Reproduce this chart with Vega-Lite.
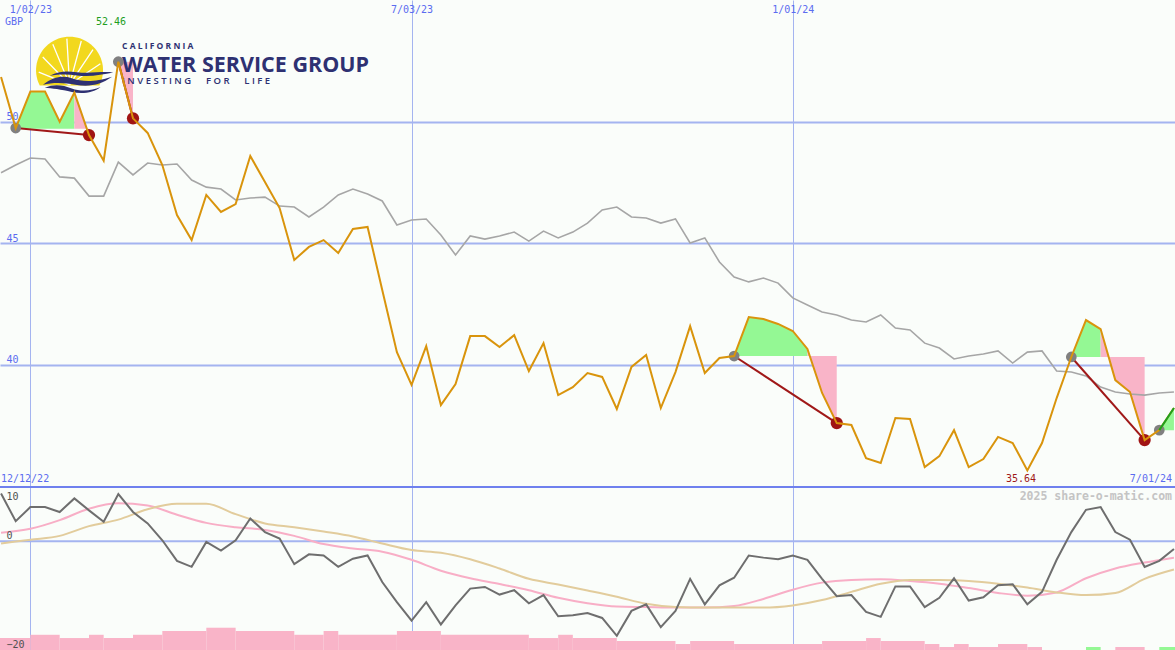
{
  "$schema": "https://vega.github.io/schema/vega-lite/v6.json",
  "background": "#fafdfa",
  "padding": 0,
  "spacing": 0,
  "config": {
    "view": {"stroke": null},
    "axis": {"domain": false, "ticks": false, "tickSize": 0, "minExtent": 0, "labelFont": "DejaVu Sans Mono", "labelFontSize": 10, "labelOverlap": false, "labelFlush": false, "labelBound": false, "gridColor": "#a4b4f0", "titleFont": "DejaVu Sans Mono"}
  },
  "datasets": {
    "one": [{}],
    "weekly": [
      {"date":"2022-12-19","price":51.83,"ma":47.89,"osc":8.8},
      {"date":"2022-12-26","price":49.73,"ma":48.21,"osc":3.7},
      {"date":"2023-01-02","price":51.23,"ma":48.50,"osc":6.3},
      {"date":"2023-01-09","price":51.23,"ma":48.46,"osc":6.3},
      {"date":"2023-01-16","price":49.99,"ma":47.72,"osc":5.4},
      {"date":"2023-01-23","price":51.19,"ma":47.67,"osc":7.9},
      {"date":"2023-01-30","price":49.44,"ma":46.93,"osc":5.7},
      {"date":"2023-02-06","price":48.39,"ma":46.93,"osc":3.6},
      {"date":"2023-02-13","price":52.46,"ma":48.33,"osc":8.7},
      {"date":"2023-02-20","price":50.13,"ma":47.80,"osc":5.4},
      {"date":"2023-02-27","price":49.53,"ma":48.29,"osc":3.3},
      {"date":"2023-03-06","price":48.21,"ma":48.21,"osc":0.2},
      {"date":"2023-03-13","price":46.15,"ma":48.25,"osc":-3.6},
      {"date":"2023-03-20","price":45.12,"ma":47.59,"osc":-4.7},
      {"date":"2023-03-27","price":46.98,"ma":47.30,"osc":-0.1},
      {"date":"2023-04-03","price":46.28,"ma":47.22,"osc":-1.7},
      {"date":"2023-04-10","price":46.60,"ma":46.77,"osc":0.2},
      {"date":"2023-04-17","price":48.58,"ma":46.85,"osc":4.2},
      {"date":"2023-04-24","price":47.51,"ma":46.89,"osc":1.7},
      {"date":"2023-05-01","price":46.44,"ma":46.52,"osc":0.5},
      {"date":"2023-05-08","price":44.30,"ma":46.48,"osc":-4.2},
      {"date":"2023-05-15","price":44.84,"ma":46.07,"osc":-2.4},
      {"date":"2023-05-22","price":45.12,"ma":46.48,"osc":-2.6},
      {"date":"2023-05-29","price":44.59,"ma":46.98,"osc":-4.7},
      {"date":"2023-06-05","price":45.58,"ma":47.22,"osc":-3.2},
      {"date":"2023-06-12","price":45.66,"ma":47.02,"osc":-2.6},
      {"date":"2023-06-19","price":43.07,"ma":46.73,"osc":-7.5},
      {"date":"2023-06-26","price":40.51,"ma":45.74,"osc":-11.2},
      {"date":"2023-07-03","price":39.16,"ma":45.95,"osc":-14.6},
      {"date":"2023-07-10","price":40.76,"ma":45.99,"osc":-11.2},
      {"date":"2023-07-17","price":38.33,"ma":45.33,"osc":-15.3},
      {"date":"2023-07-24","price":39.20,"ma":44.51,"osc":-11.8},
      {"date":"2023-07-31","price":41.17,"ma":45.29,"osc":-8.7},
      {"date":"2023-08-07","price":41.17,"ma":45.16,"osc":-8.4},
      {"date":"2023-08-14","price":40.72,"ma":45.29,"osc":-9.8},
      {"date":"2023-08-21","price":41.21,"ma":45.45,"osc":-9.0},
      {"date":"2023-08-28","price":39.73,"ma":45.08,"osc":-11.4},
      {"date":"2023-09-04","price":40.88,"ma":45.49,"osc":-9.9},
      {"date":"2023-09-11","price":38.74,"ma":45.21,"osc":-13.8},
      {"date":"2023-09-18","price":39.07,"ma":45.45,"osc":-13.6},
      {"date":"2023-09-25","price":39.65,"ma":45.82,"osc":-13.2},
      {"date":"2023-10-02","price":39.49,"ma":46.36,"osc":-14.1},
      {"date":"2023-10-09","price":38.17,"ma":46.48,"osc":-17.4},
      {"date":"2023-10-16","price":39.90,"ma":46.07,"osc":-12.8},
      {"date":"2023-10-23","price":40.39,"ma":46.03,"osc":-11.6},
      {"date":"2023-10-30","price":38.21,"ma":45.82,"osc":-15.8},
      {"date":"2023-11-06","price":39.69,"ma":45.99,"osc":-12.8},
      {"date":"2023-11-13","price":41.58,"ma":45.00,"osc":-6.9},
      {"date":"2023-11-20","price":39.65,"ma":45.21,"osc":-11.6},
      {"date":"2023-11-27","price":40.27,"ma":44.22,"osc":-8.1},
      {"date":"2023-12-04","price":40.35,"ma":43.60,"osc":-6.7},
      {"date":"2023-12-11","price":41.95,"ma":43.40,"osc":-2.6},
      {"date":"2023-12-18","price":41.87,"ma":43.56,"osc":-3.0},
      {"date":"2023-12-25","price":41.67,"ma":43.35,"osc":-3.3},
      {"date":"2024-01-01","price":41.38,"ma":42.74,"osc":-2.6},
      {"date":"2024-01-08","price":40.64,"ma":42.45,"osc":-3.4},
      {"date":"2024-01-15","price":38.83,"ma":42.16,"osc":-6.9},
      {"date":"2024-01-22","price":37.59,"ma":42.04,"osc":-10.1},
      {"date":"2024-01-29","price":37.51,"ma":41.83,"osc":-9.9},
      {"date":"2024-02-05","price":36.15,"ma":41.75,"osc":-13.0},
      {"date":"2024-02-12","price":35.95,"ma":42.04,"osc":-13.9},
      {"date":"2024-02-19","price":37.80,"ma":41.50,"osc":-8.3},
      {"date":"2024-02-26","price":37.76,"ma":41.42,"osc":-8.3},
      {"date":"2024-03-04","price":35.78,"ma":40.88,"osc":-12.1},
      {"date":"2024-03-11","price":36.23,"ma":40.68,"osc":-10.4},
      {"date":"2024-03-18","price":37.30,"ma":40.23,"osc":-6.8},
      {"date":"2024-03-25","price":35.78,"ma":40.35,"osc":-10.9},
      {"date":"2024-04-01","price":36.11,"ma":40.43,"osc":-10.3},
      {"date":"2024-04-08","price":37.02,"ma":40.56,"osc":-8.1},
      {"date":"2024-04-15","price":36.77,"ma":40.06,"osc":-7.9},
      {"date":"2024-04-22","price":35.64,"ma":40.51,"osc":-11.6},
      {"date":"2024-04-29","price":36.77,"ma":40.56,"osc":-9.3},
      {"date":"2024-05-06","price":38.62,"ma":39.73,"osc":-3.4},
      {"date":"2024-05-13","price":40.31,"ma":39.69,"osc":1.7},
      {"date":"2024-05-20","price":41.83,"ma":39.53,"osc":5.8},
      {"date":"2024-05-27","price":41.46,"ma":39.07,"osc":6.3},
      {"date":"2024-06-03","price":39.36,"ma":38.87,"osc":1.7},
      {"date":"2024-06-10","price":38.87,"ma":38.79,"osc":0.3},
      {"date":"2024-06-17","price":36.89,"ma":38.74,"osc":-4.7},
      {"date":"2024-06-24","price":37.30,"ma":38.83,"osc":-3.6},
      {"date":"2024-07-01","price":38.21,"ma":38.87,"osc":-1.4}
    ],
    "smooth": [
      {"date":"2022-12-19","pink":1.6,"tan":-0.4},
      {"date":"2023-01-02","pink":2.3,"tan":0.3},
      {"date":"2023-01-16","pink":3.9,"tan":1.0},
      {"date":"2023-01-30","pink":6.0,"tan":2.8},
      {"date":"2023-02-13","pink":7.0,"tan":4.0},
      {"date":"2023-02-27","pink":6.6,"tan":5.9},
      {"date":"2023-03-13","pink":4.9,"tan":6.9},
      {"date":"2023-03-27","pink":3.4,"tan":6.9},
      {"date":"2023-04-10","pink":2.6,"tan":5.0},
      {"date":"2023-04-24","pink":2.1,"tan":3.3},
      {"date":"2023-05-08","pink":1.0,"tan":2.6},
      {"date":"2023-05-22","pink":-0.5,"tan":1.8},
      {"date":"2023-06-05","pink":-1.3,"tan":0.9},
      {"date":"2023-06-19","pink":-1.9,"tan":-0.4},
      {"date":"2023-07-03","pink":-3.4,"tan":-1.6},
      {"date":"2023-07-17","pink":-5.4,"tan":-2.1},
      {"date":"2023-07-31","pink":-6.8,"tan":-3.3},
      {"date":"2023-08-14","pink":-7.85,"tan":-5.0},
      {"date":"2023-08-28","pink":-9.0,"tan":-6.9},
      {"date":"2023-09-11","pink":-10.4,"tan":-7.95},
      {"date":"2023-09-25","pink":-11.4,"tan":-9.05},
      {"date":"2023-10-09","pink":-12.0,"tan":-10.2},
      {"date":"2023-10-23","pink":-12.1,"tan":-11.5},
      {"date":"2023-11-06","pink":-12.2,"tan":-12.1},
      {"date":"2023-11-20","pink":-12.2,"tan":-12.2},
      {"date":"2023-12-04","pink":-11.9,"tan":-12.2},
      {"date":"2023-12-18","pink":-10.6,"tan":-12.2},
      {"date":"2024-01-01","pink":-8.9,"tan":-11.8},
      {"date":"2024-01-15","pink":-7.6,"tan":-10.8},
      {"date":"2024-01-29","pink":-7.1,"tan":-9.3},
      {"date":"2024-02-12","pink":-7.0,"tan":-7.8},
      {"date":"2024-02-26","pink":-7.3,"tan":-7.1},
      {"date":"2024-03-11","pink":-7.8,"tan":-7.1},
      {"date":"2024-03-25","pink":-8.6,"tan":-7.3},
      {"date":"2024-04-08","pink":-9.5,"tan":-7.8},
      {"date":"2024-04-22","pink":-10.0,"tan":-8.5},
      {"date":"2024-05-06","pink":-9.4,"tan":-9.4},
      {"date":"2024-05-20","pink":-6.8,"tan":-9.9},
      {"date":"2024-06-03","pink":-5.0,"tan":-9.5},
      {"date":"2024-06-17","pink":-3.9,"tan":-6.9},
      {"date":"2024-07-01","pink":-3.0,"tan":-5.2}
    ],
    "fills": [
      {"seg":"g1","kind":"buy","date":"2022-12-26","price":49.73,"base":49.70},
      {"seg":"g1","kind":"buy","date":"2023-01-02","price":51.23,"base":49.70},
      {"seg":"g1","kind":"buy","date":"2023-01-09","price":51.23,"base":49.70},
      {"seg":"g1","kind":"buy","date":"2023-01-16","price":49.99,"base":49.70},
      {"seg":"g1","kind":"buy","date":"2023-01-23","price":51.19,"base":49.70},
      {"seg":"p1","kind":"sell","date":"2023-01-23","price":51.19,"base":49.70},
      {"seg":"p1","kind":"sell","date":"2023-01-30","price":49.44,"base":49.70},
      {"seg":"p2","kind":"sell","date":"2023-02-13","price":52.46,"base":52.46},
      {"seg":"p2","kind":"sell","date":"2023-02-20","price":50.13,"base":52.46},
      {"seg":"g3","kind":"buy","date":"2023-12-04","price":40.35,"base":40.35},
      {"seg":"g3","kind":"buy","date":"2023-12-11","price":41.95,"base":40.35},
      {"seg":"g3","kind":"buy","date":"2023-12-18","price":41.87,"base":40.35},
      {"seg":"g3","kind":"buy","date":"2023-12-25","price":41.67,"base":40.35},
      {"seg":"g3","kind":"buy","date":"2024-01-01","price":41.38,"base":40.35},
      {"seg":"g3","kind":"buy","date":"2024-01-08","price":40.64,"base":40.35},
      {"seg":"p3","kind":"sell","date":"2024-01-08","price":40.64,"base":40.35},
      {"seg":"p3","kind":"sell","date":"2024-01-15","price":38.83,"base":40.35},
      {"seg":"p3","kind":"sell","date":"2024-01-22","price":37.59,"base":40.35},
      {"seg":"g4","kind":"buy","date":"2024-05-13","price":40.31,"base":40.31},
      {"seg":"g4","kind":"buy","date":"2024-05-20","price":41.83,"base":40.31},
      {"seg":"g4","kind":"buy","date":"2024-05-27","price":41.46,"base":40.31},
      {"seg":"p4","kind":"sell","date":"2024-05-27","price":41.46,"base":40.31},
      {"seg":"p4","kind":"sell","date":"2024-06-03","price":39.36,"base":40.31},
      {"seg":"p4","kind":"sell","date":"2024-06-10","price":38.87,"base":40.31},
      {"seg":"p4","kind":"sell","date":"2024-06-17","price":36.89,"base":40.31},
      {"seg":"g5","kind":"buy","date":"2024-06-24","price":37.30,"base":37.30},
      {"seg":"g5","kind":"buy","date":"2024-07-01","price":38.21,"base":37.30}
    ],
    "trades": [
      {"seg":"t1","date":"2022-12-26","price":49.73},
      {"seg":"t1","date":"2023-01-30","price":49.44},
      {"seg":"t2","date":"2023-02-13","price":52.46},
      {"seg":"t2","date":"2023-02-20","price":50.13},
      {"seg":"t3","date":"2023-12-04","price":40.35},
      {"seg":"t3","date":"2024-01-22","price":37.59},
      {"seg":"t4","date":"2024-05-13","price":40.31},
      {"seg":"t4","date":"2024-06-17","price":36.89}
    ],
    "signals": [
      {"kind":"open","date":"2022-12-26","price":49.73},
      {"kind":"open","date":"2023-02-13","price":52.46},
      {"kind":"open","date":"2023-12-04","price":40.35},
      {"kind":"open","date":"2024-05-13","price":40.31},
      {"kind":"open","date":"2024-06-24","price":37.30},
      {"kind":"close","date":"2023-01-30","price":49.44},
      {"kind":"close","date":"2023-02-20","price":50.13},
      {"kind":"close","date":"2024-01-22","price":37.59},
      {"kind":"close","date":"2024-06-17","price":36.89}
    ],
    "tail": [
      {"date":"2024-06-24","price":37.30},
      {"date":"2024-07-01","price":38.21}
    ],
    "bars": [
      {"from":"2022-12-12","to":"2023-01-02","top":-17.8,"kind":"sell"},
      {"from":"2023-01-02","to":"2023-01-16","top":-17.2,"kind":"sell"},
      {"from":"2023-01-16","to":"2023-01-30","top":-17.8,"kind":"sell"},
      {"from":"2023-01-30","to":"2023-02-06","top":-17.2,"kind":"sell"},
      {"from":"2023-02-06","to":"2023-02-20","top":-17.8,"kind":"sell"},
      {"from":"2023-02-20","to":"2023-03-06","top":-17.2,"kind":"sell"},
      {"from":"2023-03-06","to":"2023-03-27","top":-16.5,"kind":"sell"},
      {"from":"2023-03-27","to":"2023-04-10","top":-15.9,"kind":"sell"},
      {"from":"2023-04-10","to":"2023-05-08","top":-16.5,"kind":"sell"},
      {"from":"2023-05-08","to":"2023-05-22","top":-17.2,"kind":"sell"},
      {"from":"2023-05-22","to":"2023-05-29","top":-16.5,"kind":"sell"},
      {"from":"2023-05-29","to":"2023-06-26","top":-17.2,"kind":"sell"},
      {"from":"2023-06-26","to":"2023-07-17","top":-16.5,"kind":"sell"},
      {"from":"2023-07-17","to":"2023-08-28","top":-17.2,"kind":"sell"},
      {"from":"2023-08-28","to":"2023-09-11","top":-17.8,"kind":"sell"},
      {"from":"2023-09-11","to":"2023-09-18","top":-17.2,"kind":"sell"},
      {"from":"2023-09-18","to":"2023-10-09","top":-17.8,"kind":"sell"},
      {"from":"2023-10-09","to":"2023-11-06","top":-18.35,"kind":"sell"},
      {"from":"2023-11-06","to":"2023-11-13","top":-18.9,"kind":"sell"},
      {"from":"2023-11-13","to":"2023-12-04","top":-18.35,"kind":"sell"},
      {"from":"2023-12-04","to":"2024-01-15","top":-18.9,"kind":"sell"},
      {"from":"2024-01-15","to":"2024-02-05","top":-18.35,"kind":"sell"},
      {"from":"2024-02-05","to":"2024-02-12","top":-17.8,"kind":"sell"},
      {"from":"2024-02-12","to":"2024-03-04","top":-18.35,"kind":"sell"},
      {"from":"2024-03-04","to":"2024-03-11","top":-18.9,"kind":"sell"},
      {"from":"2024-03-11","to":"2024-03-18","top":-19.45,"kind":"sell"},
      {"from":"2024-03-18","to":"2024-03-25","top":-18.9,"kind":"sell"},
      {"from":"2024-03-25","to":"2024-04-08","top":-19.45,"kind":"sell"},
      {"from":"2024-04-08","to":"2024-04-22","top":-18.9,"kind":"sell"},
      {"from":"2024-04-22","to":"2024-04-29","top":-19.45,"kind":"sell"},
      {"from":"2024-05-20","to":"2024-05-27","top":-19.45,"kind":"buy"},
      {"from":"2024-06-03","to":"2024-06-17","top":-19.45,"kind":"sell"},
      {"from":"2024-06-24","to":"2024-07-08","top":-19.45,"kind":"buy"}
    ]
  },
  "vconcat": [
    {
      "width": 1175,
      "height": 487,
      "layer": [
        {
          "data": {"name": "fills"},
          "mark": {"type": "area", "opacity": 1, "clip": true},
          "encoding": {
            "x": {"field": "date", "type": "temporal", "title": null,
                  "scale": {"type": "utc", "nice": false, "domain": [{"year":2022,"month":12,"date":18,"hours":12,"utc":true},{"year":2024,"month":7,"date":1,"hours":12,"utc":true}]},
                  "axis": {"orient": "top", "title": null, "grid": true, "gridWidth": 1, "format": "%-m/%d/%y", "labelBaseline": "top", "labelAlign": "center", "labelPadding": -4, "labelColor": "#5b6cf0",
                           "values": [{"year":2023,"month":1,"date":2,"utc":true},{"year":2023,"month":7,"date":3,"utc":true},{"year":2024,"month":1,"date":1,"utc":true}]}},
            "y": {"field": "price", "type": "quantitative", "title": null,
                  "scale": {"domain": [34.96, 55], "zero": false, "nice": false},
                  "axis": {"values": [40, 45, 50], "grid": true, "gridWidth": 2, "title": null, "labelAlign": "left", "labelBaseline": "bottom", "labelPadding": -6, "labelOffset": 0, "labelColor": "#5b6cf0"}},
            "y2": {"field": "base"},
            "detail": {"field": "seg"},
            "color": {"field": "kind", "type": "nominal", "scale": {"domain": ["buy", "sell"], "range": ["#94f894", "#f9b4c8"]}, "legend": null}
          }
        },
        {
          "data": {"name": "one"},
          "mark": {"type": "point", "shape": "M -0.89 0.45 A 1 1 0 1 1 0.89 0.45 Z", "filled": true, "fill": "#f2d81e", "strokeWidth": 0, "size": 4489, "opacity": 1},
          "encoding": {
            "x": {"datum": {"year":2023,"month":1,"date":20,"hours":17,"utc":true}, "type": "temporal"},
            "y": {"datum": 52.10}
          }
        },
        {
          "data": {"name": "one"},
          "mark": {"type": "point", "shape": "M 0 0.42 L -0.92 0.05 M 0 0.42 L -0.8 -0.4 M 0 0.42 L -0.5 -0.78 M 0 0.42 L -0.08 -0.95 M 0 0.42 L 0.35 -0.88 M 0 0.42 L 0.7 -0.62 M 0 0.42 L 0.92 -0.2", "filled": false, "stroke": "#ffffff", "strokeWidth": 1.3, "size": 4489, "opacity": 1},
          "encoding": {
            "x": {"datum": {"year":2023,"month":1,"date":20,"hours":17,"utc":true}, "type": "temporal"},
            "y": {"datum": 52.10}
          }
        },
        {
          "data": {"name": "one"},
          "mark": {"type": "point", "shape": "M -0.81 -0.17 C -0.55 -0.32 -0.3 -0.3 -0.06 -0.27 C 0.3 -0.22 0.65 -0.3 0.95 -0.26 C 0.65 -0.2 0.3 -0.13 -0.06 -0.18 C -0.35 -0.22 -0.6 -0.2 -0.81 -0.17 Z M -1 0.08 C -0.7 -0.15 -0.45 -0.18 -0.2 -0.1 C 0.1 0 0.4 0.02 0.92 -0.14 C 0.6 0.08 0.3 0.15 -0.1 0.08 C -0.4 0.02 -0.7 0 -1 0.08 Z M -0.95 0.16 C -0.7 0.05 -0.45 0.08 -0.2 0.18 C 0.05 0.27 0.35 0.25 0.6 0.14 C 0.4 0.3 0.1 0.35 -0.2 0.28 C -0.5 0.2 -0.75 0.18 -0.95 0.16 Z", "filled": true, "fill": "#2e3172", "strokeWidth": 0, "size": 5184, "opacity": 1},
          "encoding": {
            "x": {"datum": {"year":2023,"month":1,"date":25,"hours":5,"utc":true}, "type": "temporal"},
            "y": {"datum": 51.63}
          }
        },
        {
          "data": {"name": "one"},
          "mark": {"type": "text", "text": "C\u00a0A\u00a0L\u00a0I\u00a0F\u00a0O\u00a0R\u00a0N\u00a0I\u00a0A", "font": "Open Sans", "fontWeight": "bold", "fontSize": 8.5, "color": "#2e3172", "align": "left", "baseline": "alphabetic"},
          "encoding": {
            "x": {"datum": {"year":2023,"month":2,"date":14,"hours":18,"utc":true}, "type": "temporal"},
            "y": {"datum": 53.0}
          }
        },
        {
          "data": {"name": "one"},
          "mark": {"type": "text", "text": "WATER SERVICE GROUP", "font": "Open Sans", "fontWeight": "bold", "fontSize": 21.5, "color": "#2e3172", "align": "left", "baseline": "alphabetic"},
          "encoding": {
            "x": {"datum": {"year":2023,"month":2,"date":14,"hours":18,"utc":true}, "type": "temporal"},
            "y": {"datum": 52.04}
          }
        },
        {
          "data": {"name": "one"},
          "mark": {"type": "text", "text": "I\u00a0N\u00a0V\u00a0E\u00a0S\u00a0T\u00a0I\u00a0N\u00a0G\u00a0\u00a0\u00a0\u00a0\u00a0\u00a0F\u00a0O\u00a0R\u00a0\u00a0\u00a0\u00a0\u00a0\u00a0L\u00a0I\u00a0F\u00a0E", "font": "Open Sans", "fontWeight": 600, "fontSize": 9.5, "color": "#2e3172", "align": "left", "baseline": "alphabetic"},
          "encoding": {
            "x": {"datum": {"year":2023,"month":2,"date":14,"hours":18,"utc":true}, "type": "temporal"},
            "y": {"datum": 51.54}
          }
        },
        {
          "data": {"name": "weekly"},
          "mark": {"type": "line", "color": "#a6a6a6", "strokeWidth": 1.6, "clip": true},
          "encoding": {
            "x": {"field": "date", "type": "temporal", "title": null},
            "y": {"field": "ma", "type": "quantitative", "title": null}
          }
        },
        {
          "data": {"name": "trades"},
          "mark": {"type": "line", "color": "#a01818", "strokeWidth": 2, "clip": true},
          "encoding": {
            "x": {"field": "date", "type": "temporal", "title": null},
            "y": {"field": "price", "type": "quantitative", "title": null},
            "detail": {"field": "seg"}
          }
        },
        {
          "data": {"name": "signals"},
          "transform": [{"filter": "datum.kind == 'open'"}],
          "mark": {"type": "point", "filled": true, "color": "#808080", "size": 115, "opacity": 1},
          "encoding": {
            "x": {"field": "date", "type": "temporal", "title": null},
            "y": {"field": "price", "type": "quantitative", "title": null}
          }
        },
        {
          "data": {"name": "signals"},
          "transform": [{"filter": "datum.kind == 'close'"}],
          "mark": {"type": "point", "filled": true, "color": "#a01414", "size": 150, "opacity": 1},
          "encoding": {
            "x": {"field": "date", "type": "temporal", "title": null},
            "y": {"field": "price", "type": "quantitative", "title": null}
          }
        },
        {
          "data": {"name": "weekly"},
          "mark": {"type": "line", "color": "#d9940c", "strokeWidth": 2, "clip": true},
          "encoding": {
            "x": {"field": "date", "type": "temporal", "title": null},
            "y": {"field": "price", "type": "quantitative", "title": null}
          }
        },
        {
          "data": {"name": "tail"},
          "mark": {"type": "line", "color": "#1ea01e", "strokeWidth": 2, "clip": true},
          "encoding": {
            "x": {"field": "date", "type": "temporal", "title": null},
            "y": {"field": "price", "type": "quantitative", "title": null}
          }
        },
        {
          "data": {"name": "one"},
          "mark": {"type": "rule", "color": "#6f80ee", "strokeWidth": 2, "clip": true},
          "encoding": {"y": {"datum": 34.96}}
        },
        {
          "data": {"name": "one"},
          "mark": {"type": "text", "text": "GBP", "font": "DejaVu Sans Mono", "fontSize": 10, "color": "#5b6cf0", "align": "left", "baseline": "alphabetic", "dx": 5},
          "encoding": {
            "x": {"datum": {"year":2022,"month":12,"date":18,"hours":12,"utc":true}, "type": "temporal"},
            "y": {"datum": 53.97}
          }
        },
        {
          "data": {"name": "one"},
          "mark": {"type": "text", "text": "52.46", "font": "DejaVu Sans Mono", "fontSize": 10, "color": "#1e9e1e", "align": "center", "baseline": "alphabetic"},
          "encoding": {
            "x": {"datum": {"year":2023,"month":2,"date":9,"hours":12,"utc":true}, "type": "temporal"},
            "y": {"datum": 53.97}
          }
        },
        {
          "data": {"name": "one"},
          "mark": {"type": "text", "text": "35.64", "font": "DejaVu Sans Mono", "fontSize": 10, "color": "#a01818", "align": "center", "baseline": "alphabetic"},
          "encoding": {
            "x": {"datum": {"year":2024,"month":4,"date":19,"utc":true}, "type": "temporal"},
            "y": {"datum": 35.16}
          }
        },
        {
          "data": {"name": "one"},
          "mark": {"type": "text", "text": "12/12/22", "font": "DejaVu Sans Mono", "fontSize": 10, "color": "#5b6cf0", "align": "left", "baseline": "alphabetic", "dx": 1},
          "encoding": {
            "x": {"datum": {"year":2022,"month":12,"date":18,"hours":12,"utc":true}, "type": "temporal"},
            "y": {"datum": 35.16}
          }
        },
        {
          "data": {"name": "one"},
          "mark": {"type": "text", "text": "7/01/24", "font": "DejaVu Sans Mono", "fontSize": 10, "color": "#5b6cf0", "align": "right", "baseline": "alphabetic", "dx": -3},
          "encoding": {
            "x": {"datum": {"year":2024,"month":7,"date":1,"hours":12,"utc":true}, "type": "temporal"},
            "y": {"datum": 35.16}
          }
        }
      ]
    },
    {
      "width": 1175,
      "height": 163,
      "layer": [
        {
          "data": {"name": "bars"},
          "mark": {"type": "rect", "clip": true},
          "encoding": {
            "x": {"field": "from", "type": "temporal", "title": null,
                  "scale": {"type": "utc", "nice": false, "domain": [{"year":2022,"month":12,"date":18,"hours":12,"utc":true},{"year":2024,"month":7,"date":1,"hours":12,"utc":true}]},
                  "axis": {"orient": "top", "title": null, "grid": true, "gridWidth": 1, "labels": false,
                           "values": [{"year":2023,"month":1,"date":2,"utc":true},{"year":2023,"month":7,"date":3,"utc":true},{"year":2024,"month":1,"date":1,"utc":true}]}},
            "x2": {"field": "to"},
            "y": {"field": "top", "type": "quantitative",
                  "scale": {"domain": [-20, 10], "zero": false, "nice": false},
                  "axis": {"values": [-20, 0, 10], "grid": false, "title": null, "zindex": 1, "labelAlign": "left", "labelPadding": -6, "labelColor": "#505050",
                           "labelBaseline": {"condition": {"test": "datum.value == 10", "value": "top"}, "value": "bottom"},
                           "labelOffset": {"condition": {"test": "datum.value == 10", "value": 4}, "value": -1}}},
            "y2": {"datum": -21},
            "color": {"field": "kind", "type": "nominal", "scale": {"domain": ["buy", "sell"], "range": ["#94f894", "#f9b4c8"]}, "legend": null}
          }
        },
        {
          "data": {"name": "one"},
          "mark": {"type": "rule", "color": "#a4b4f0", "strokeWidth": 2, "clip": true},
          "encoding": {"y": {"datum": 0}}
        },
        {
          "data": {"name": "one"},
          "mark": {"type": "rule", "color": "#6f80ee", "strokeWidth": 2, "clip": true},
          "encoding": {"y": {"datum": 10}}
        },
        {
          "data": {"name": "smooth"},
          "mark": {"type": "line", "color": "#f8aec6", "strokeWidth": 2, "interpolate": "monotone", "clip": true},
          "encoding": {
            "x": {"field": "date", "type": "temporal", "title": null},
            "y": {"field": "pink", "type": "quantitative", "title": null}
          }
        },
        {
          "data": {"name": "smooth"},
          "mark": {"type": "line", "color": "#e2cc9c", "strokeWidth": 2, "interpolate": "monotone", "clip": true},
          "encoding": {
            "x": {"field": "date", "type": "temporal", "title": null},
            "y": {"field": "tan", "type": "quantitative", "title": null}
          }
        },
        {
          "data": {"name": "weekly"},
          "mark": {"type": "line", "color": "#6e6e6e", "strokeWidth": 2, "clip": true},
          "encoding": {
            "x": {"field": "date", "type": "temporal", "title": null},
            "y": {"field": "osc", "type": "quantitative", "title": null}
          }
        },
        {
          "data": {"name": "one"},
          "mark": {"type": "text", "text": "2025 share-o-matic.com", "font": "DejaVu Sans Mono", "fontWeight": "bold", "fontSize": 11.5, "color": "#c4c4c4", "align": "right", "baseline": "alphabetic", "dx": -3},
          "encoding": {
            "x": {"datum": {"year":2024,"month":7,"date":1,"hours":12,"utc":true}, "type": "temporal"},
            "y": {"datum": 7.6}
          }
        }
      ]
    }
  ]
}
